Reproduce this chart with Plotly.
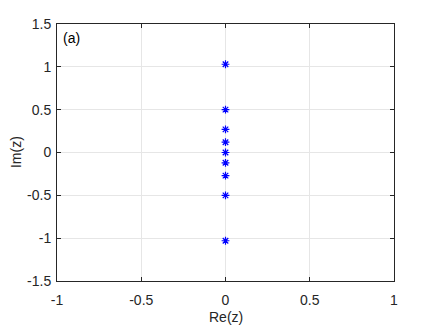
import plotly.graph_objects as go

re_z = [0, 0, 0, 0, 0, 0, 0, 0, 0]
im_z = [1.03, 0.50, 0.27, 0.12, 0.0, -0.12, -0.27, -0.50, -1.03]

x_ticks = [-1, -0.5, 0, 0.5, 1]
x_labels = ["-1", "-0.5", "0", "0.5", "1"]
y_ticks = [-1.5, -1, -0.5, 0, 0.5, 1, 1.5]
y_labels = ["-1.5", "-1", "-0.5", "0", "0.5", "1", "1.5"]

font = dict(family="Liberation Sans, Arial, sans-serif", size=14, color="#262626")

fig = go.Figure(
    go.Scatter(
        x=re_z, y=im_z, mode="markers",
        marker=dict(symbol="asterisk-open", size=6.5, color="#0000ff",
                    line=dict(color="#0000ff", width=1.2)),
        showlegend=False,
    )
)

axis = dict(
    showgrid=True, gridcolor="#e6e6e6", gridwidth=1,
    zeroline=False, showline=True, linecolor="#262626", linewidth=1,
    mirror="ticks", ticks="inside", ticklen=4, tickcolor="#262626",
    tickfont=font, automargin=False,
)

# the page body adds an 8px offset, so the figure is shrunk to fit
fig.update_layout(
    width=428, height=319,
    margin=dict(l=49, r=42, t=16, b=46, autoexpand=False),
    paper_bgcolor="white", plot_bgcolor="white",
    font=font,
    xaxis=dict(axis, range=[-1, 1], tickvals=x_ticks, ticktext=x_labels,
               ticklabelstandoff=6),
    yaxis=dict(axis, range=[-1.5, 1.5], tickvals=y_ticks, ticktext=y_labels,
               ticklabelstandoff=2),
    annotations=[
        dict(text="(a)", x=0.012, y=0.985, xref="paper", yref="paper",
             xanchor="left", yanchor="top", showarrow=False,
             font=dict(family=font["family"], size=14, color="#000000")),
        dict(text="Re(z)", x=0.5, y=-0.142, xref="paper", yref="paper",
             xanchor="center", yanchor="middle", showarrow=False, font=font),
        dict(text="Im(z)", x=-0.123, y=0.5, xref="paper", yref="paper",
             xanchor="center", yanchor="middle", textangle=-90,
             showarrow=False, font=font),
    ],
)

fig.write_html("out.html")
